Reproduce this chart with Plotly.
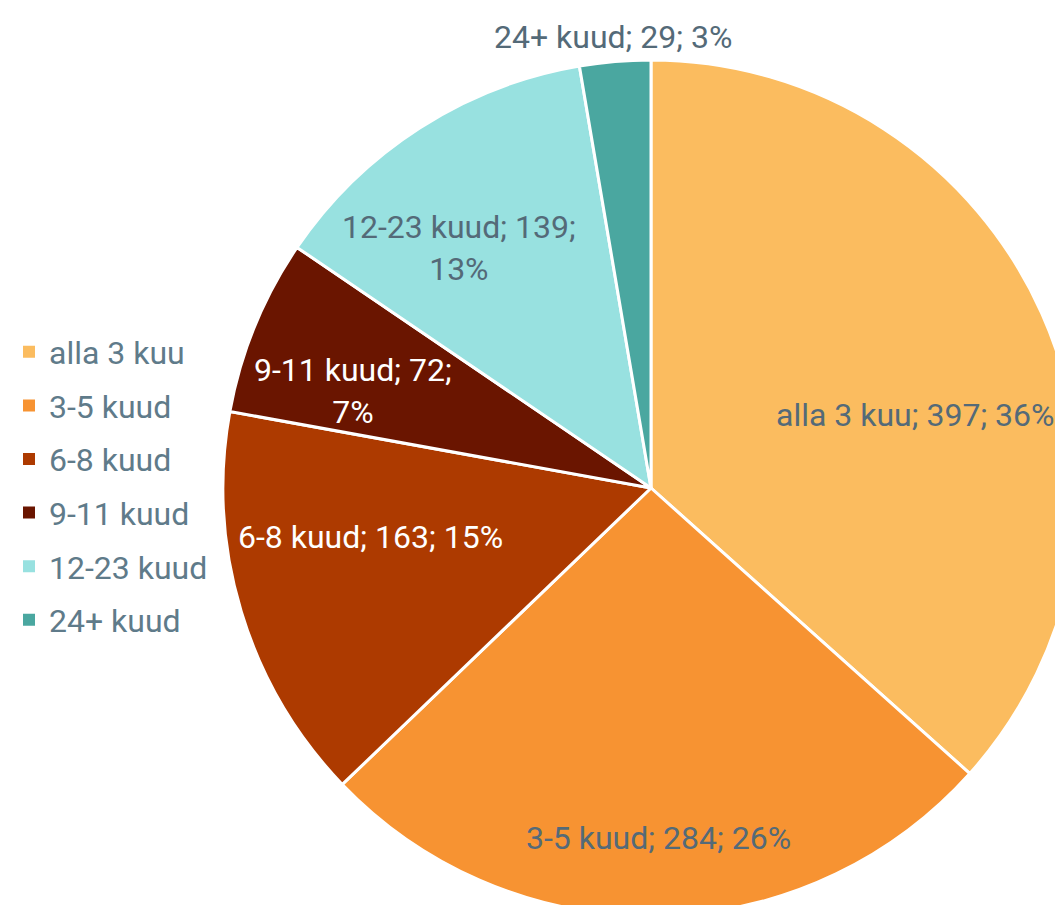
import plotly.graph_objects as go

# andmed
labels = ["alla 3 kuu", "3-5 kuud", "6-8 kuud", "9-11 kuud", "12-23 kuud", "24+ kuud"]
values = [397, 284, 163, 72, 139, 29]
percents = [36, 26, 15, 7, 13, 3]  # nagu joonisel kirjas
colors = ["#FBBC5F", "#F79332", "#AD3A00", "#6A1500", "#98E1E0", "#4AA7A0"]

# siltide kujundus (asukoht pikslites akna suhtes, teksti värv, reamurdmine)
label_xy = [(915, 415), (658, 838), (370, 537), (353, 391), (459, 248), (613, 37)]
text_colors = ["#546A78", "#546A78", "#FFFFFF", "#FFFFFF", "#546A78", "#546A78"]
wrap = [False, False, False, True, True, False]

# joonis on aknast suurem, et ring ulatuks üle ääre nagu originaalis
W, H = 1100, 940
cx, cy, r = 651, 488, 428

fig = go.Figure()
fig.add_trace(go.Pie(
    labels=labels,
    values=values,
    sort=False,
    direction="clockwise",
    rotation=0,
    marker=dict(colors=colors, line=dict(color="white", width=3)),
    textinfo="none",
    showlegend=False,
    domain=dict(x=[(cx - r) / W, (cx + r) / W], y=[1 - (cy + r) / H, 1 - (cy - r) / H]),
))

# andmesildid
for lab, val, pct, (px, py), tc, w in zip(labels, values, percents, label_xy, text_colors, wrap):
    sep = ";<br>" if w else "; "
    fig.add_annotation(
        x=px / W, y=1 - py / H, xref="paper", yref="paper",
        text=f"{lab}; {val}{sep}{pct}%", showarrow=False,
        xanchor="center", yanchor="middle",
        font=dict(family="Roboto", size=32, color=tc),
    )

# legend eraldi jäljenditega
for lab, col in zip(labels, colors):
    fig.add_trace(go.Scatter(
        x=[None], y=[None], mode="markers", name=lab, legendgroup=lab,
        marker=dict(symbol="square", size=12, color=col),
    ))

fig.update_layout(
    width=W, height=H,
    margin=dict(l=0, r=0, t=0, b=0),
    paper_bgcolor="white",
    plot_bgcolor="white",
    font=dict(family="Roboto", size=32, color="#5F7B8A"),
    xaxis=dict(visible=False),
    yaxis=dict(visible=False),
    legend=dict(
        x=9 / W, y=1 - (cy - 2) / H, xanchor="left", yanchor="middle",
        tracegroupgap=9, font=dict(size=32, color="#5F7B8A"),
        itemclick=False,
    ),
)

fig.write_html(
    "out.html",
    config={"displayModeBar": False},
    post_script="document.body.style.margin='0';document.body.style.overflow='hidden';",
)
